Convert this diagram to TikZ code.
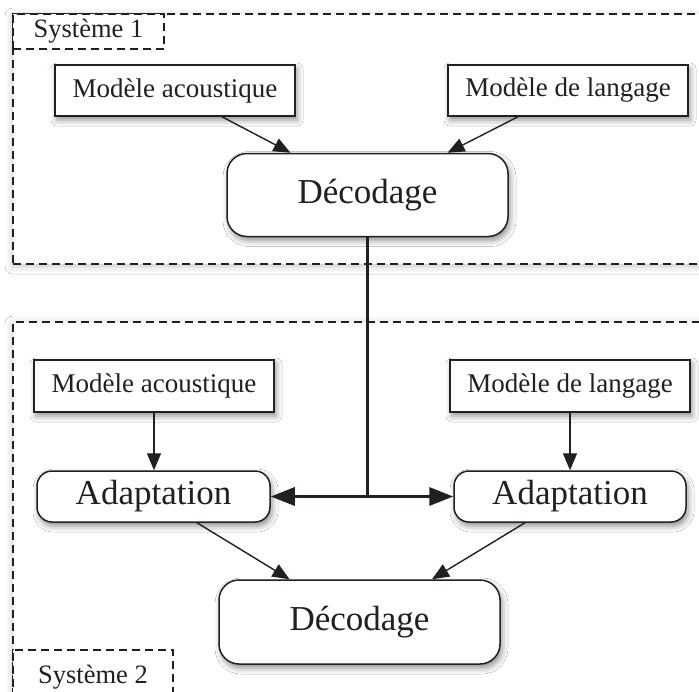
\documentclass[tikz,border=0pt]{standalone}
\usepackage{fontspec}
\setmainfont{Liberation Serif}
\usetikzlibrary{arrows.meta,shadows.blur,calc}
\definecolor{ink}{HTML}{231F20}
\tikzset{
  shad/.style={blur shadow={shadow xshift=2pt,shadow yshift=-4pt,shadow blur radius=6pt,shadow opacity=45}},
  model/.style={draw=ink,line width=1.5pt,fill=white,shad,minimum width=240pt,minimum height=51pt,inner sep=0pt,
    font=\fontsize{27}{30}\selectfont,text=ink},
  dec/.style={draw=ink,line width=1.5pt,fill=white,shad,rounded corners=20pt,minimum width=281pt,minimum height=83pt,inner sep=0pt,
    font=\fontsize{35}{40}\selectfont,text=ink},
  adapt/.style={draw=ink,line width=1.5pt,fill=white,shad,rounded corners=15pt,minimum width=232pt,minimum height=51pt,inner sep=0pt,
    font=\fontsize{35}{40}\selectfont,text=ink},
  sysbox/.style={draw=ink,line width=1.3pt,dash pattern=on 8pt off 5pt,
    blur shadow={shadow xshift=0pt,shadow yshift=-2pt,shadow blur radius=8pt,shadow opacity=25},fill=white,inner sep=0pt},
  labbox/.style={draw=ink,line width=1.3pt,dash pattern=on 8pt off 5pt,fill=white,inner sep=0pt,
    font=\fontsize{26.5}{30}\selectfont,text=ink},
  thinarr/.style={draw=ink,line width=1.4pt,-{Triangle[length=17pt,width=14pt]}},
  thickarr/.style={draw=ink,line width=3.2pt,-{Triangle[length=24pt,width=18pt]}},
}
\begin{document}
\begin{tikzpicture}[x=1pt,y=-1pt]
\useasboundingbox (0,0) rectangle (699,691);
\fill[white] (0,0) rectangle (699,691);
\clip (0,0) rectangle (699,691);
% system boxes
\node[sysbox,minimum width=697pt,minimum height=250pt] (sys1) at (361.5,139) {};
\node[sysbox,minimum width=697pt,minimum height=398pt] (sys2) at (361.5,521) {};
\node[labbox,minimum width=151pt,minimum height=35pt] (lab1) at (88.5,31.5) {Système 1};
\node[labbox,minimum width=160pt,minimum height=54pt] (lab2) at (93,677) {Système 2};
% system 1
\node[model] (ma1) at (175,90.5) {Modèle acoustique};
\node[model] (ml1) at (568,90.5) {Modèle de langage};
\node[dec] (dec1) at (367.5,195) {Décodage};
% system 2
\node[model,minimum height=52pt] (ma2) at (154,386) {Modèle acoustique};
\node[model,minimum height=52pt] (ml2) at (570,386) {Modèle de langage};
\node[adapt,minimum width=233pt] (ad1) at (153.5,496.5) {Adaptation};
\node[adapt] (ad2) at (570,496.5) {Adaptation};
\node[dec,minimum height=84pt] (dec2) at (359.5,622) {Décodage};
\coordinate (j) at (dec1.south |- ad1.east);
% connectors
\draw[thinarr] ([xshift=47pt]ma1.south) -- ([xshift=-77pt]dec1.north);
\draw[thinarr] ([xshift=-50pt]ml1.south) -- ([xshift=80pt]dec1.north);
\draw[draw=ink,line width=3.2pt] (dec1.south) -- (j);
\draw[thickarr] (j) -- (ad1.east);
\draw[thickarr] (j) -- (ad2.west);
\draw[thinarr] (ma2.south) -- (ma2.south |- ad1.north);
\draw[thinarr] (ml2.south) -- (ml2.south |- ad2.north);
\draw[thinarr] ([xshift=43.5pt]ad1.south) -- ([xshift=-70pt]dec2.north);
\draw[thinarr] ([xshift=-45pt]ad2.south) -- ([xshift=72.5pt]dec2.north);
\end{tikzpicture}
\end{document}
